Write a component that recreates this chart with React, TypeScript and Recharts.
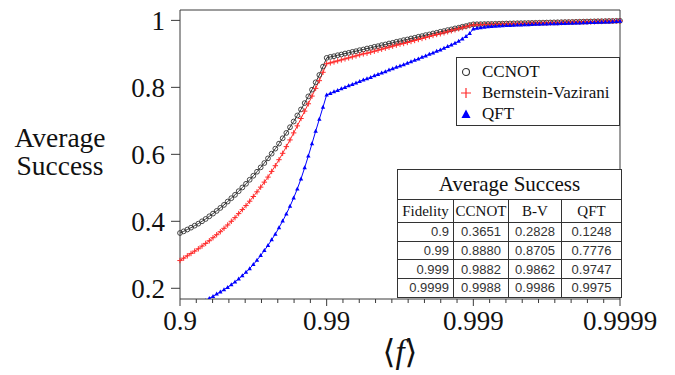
import { ComposedChart, Line, XAxis, YAxis, ReferenceLine } from "recharts";

// x = -log10(1 - f): 1 -> 0.9, 2 -> 0.99, 3 -> 0.999, 4 -> 0.9999
const infidelityExp = [
  1.0, 1.025, 1.05, 1.075, 1.1, 1.125, 1.15, 1.175, 1.2, 1.225, 1.25, 1.275, 1.3, 1.325, 1.35, 1.375, 1.4, 1.425, 1.45, 1.475,
  1.5, 1.525, 1.55, 1.575, 1.6, 1.625, 1.65, 1.675, 1.7, 1.725, 1.75, 1.775, 1.8, 1.825, 1.85, 1.875, 1.9, 1.925, 1.95, 1.975,
  2.0, 2.025, 2.05, 2.075, 2.1, 2.125, 2.15, 2.175, 2.2, 2.225, 2.25, 2.275, 2.3, 2.325, 2.35, 2.375, 2.4, 2.425, 2.45, 2.475,
  2.5, 2.525, 2.55, 2.575, 2.6, 2.625, 2.65, 2.675, 2.7, 2.725, 2.75, 2.775, 2.8, 2.825, 2.85, 2.875, 2.9, 2.925, 2.95, 2.975,
  3.0, 3.025, 3.05, 3.075, 3.1, 3.125, 3.15, 3.175, 3.2, 3.225, 3.25, 3.275, 3.3, 3.325, 3.35, 3.375, 3.4, 3.425, 3.45, 3.475,
  3.5, 3.525, 3.55, 3.575, 3.6, 3.625, 3.65, 3.675, 3.7, 3.725, 3.75, 3.775, 3.8, 3.825, 3.85, 3.875, 3.9, 3.925, 3.95, 3.975,
  4.0,
];

const ccnot = [
  0.3651, 0.37, 0.3755, 0.381, 0.387, 0.393, 0.4, 0.407, 0.415, 0.423, 0.431, 0.44, 0.449, 0.459, 0.469, 0.479, 0.49, 0.501, 0.512, 0.524,
  0.536, 0.548, 0.561, 0.574, 0.588, 0.602, 0.617, 0.632, 0.648, 0.664, 0.681, 0.698, 0.716, 0.734, 0.753, 0.773, 0.793, 0.815, 0.837, 0.862,
  0.888, 0.891, 0.893, 0.896, 0.898, 0.901, 0.903, 0.906, 0.908, 0.911, 0.913, 0.916, 0.918, 0.921, 0.923, 0.926, 0.928, 0.931, 0.933, 0.936,
  0.938, 0.941, 0.943, 0.946, 0.948, 0.951, 0.953, 0.956, 0.958, 0.961, 0.963, 0.966, 0.968, 0.971, 0.973, 0.976, 0.978, 0.981, 0.983, 0.986,
  0.9882, 0.9885, 0.9887, 0.989, 0.9893, 0.9895, 0.9898, 0.9901, 0.9903, 0.9906, 0.9909, 0.9911, 0.9914, 0.9917, 0.9919, 0.9922, 0.9925, 0.9927, 0.993, 0.9933,
  0.9935, 0.9938, 0.9941, 0.9943, 0.9946, 0.9949, 0.9951, 0.9954, 0.9957, 0.9959, 0.9962, 0.9965, 0.9967, 0.997, 0.9973, 0.9975, 0.9978, 0.9981, 0.9983, 0.9986,
  0.9988,
];

const bernsteinVazirani = [
  0.2828, 0.29, 0.297, 0.304, 0.311, 0.318, 0.326, 0.334, 0.342, 0.351, 0.36, 0.369, 0.379, 0.389, 0.4, 0.411, 0.423, 0.435, 0.447, 0.46,
  0.474, 0.488, 0.502, 0.517, 0.532, 0.549, 0.566, 0.584, 0.603, 0.623, 0.643, 0.664, 0.685, 0.707, 0.729, 0.751, 0.774, 0.797, 0.82, 0.845,
  0.8705, 0.873, 0.876, 0.879, 0.882, 0.885, 0.888, 0.891, 0.894, 0.897, 0.9, 0.902, 0.905, 0.908, 0.911, 0.914, 0.917, 0.92, 0.923, 0.926,
  0.929, 0.931, 0.934, 0.937, 0.94, 0.943, 0.946, 0.949, 0.952, 0.955, 0.958, 0.96, 0.963, 0.966, 0.969, 0.972, 0.975, 0.978, 0.981, 0.984,
  0.9862, 0.9865, 0.9868, 0.9871, 0.9874, 0.9878, 0.9881, 0.9884, 0.9887, 0.989, 0.9893, 0.9896, 0.9899, 0.9902, 0.9905, 0.9909, 0.9912, 0.9915, 0.9918, 0.9921,
  0.9924, 0.9927, 0.993, 0.9933, 0.9936, 0.994, 0.9943, 0.9946, 0.9949, 0.9952, 0.9955, 0.9958, 0.9961, 0.9964, 0.9967, 0.9971, 0.9974, 0.9977, 0.998, 0.9983,
  0.9986,
];

const qft = [
  0.1248, 0.129, 0.134, 0.139, 0.145, 0.151, 0.157, 0.163, 0.17, 0.176, 0.183, 0.189, 0.196, 0.203, 0.211, 0.219, 0.228, 0.238, 0.248, 0.259,
  0.271, 0.284, 0.298, 0.313, 0.328, 0.345, 0.362, 0.381, 0.401, 0.422, 0.445, 0.47, 0.497, 0.527, 0.56, 0.595, 0.632, 0.669, 0.705, 0.741,
  0.7776, 0.782, 0.787, 0.791, 0.796, 0.8, 0.805, 0.809, 0.813, 0.818, 0.822, 0.826, 0.83, 0.835, 0.839, 0.843, 0.847, 0.852, 0.856, 0.86,
  0.864, 0.868, 0.872, 0.877, 0.881, 0.885, 0.89, 0.894, 0.899, 0.903, 0.908, 0.912, 0.917, 0.922, 0.927, 0.932, 0.938, 0.945, 0.952, 0.961,
  0.9747, 0.9768, 0.9785, 0.9798, 0.981, 0.9819, 0.9828, 0.9835, 0.9842, 0.9848, 0.9853, 0.9858, 0.9863, 0.9868, 0.9872, 0.9876, 0.988, 0.9884, 0.9888, 0.9892,
  0.9895, 0.9899, 0.9902, 0.9906, 0.9909, 0.9913, 0.9916, 0.992, 0.9923, 0.9927, 0.993, 0.9934, 0.9937, 0.9941, 0.9944, 0.9948, 0.9952, 0.9957, 0.9962, 0.9968,
  0.9975,
];

const fidelityLabels = ["0.9", "0.99", "0.999", "0.9999"];
const tableCcnot = ["0.3651", "0.8880", "0.9882", "0.9988"];
const tableBv = ["0.2828", "0.8705", "0.9862", "0.9986"];
const tableQft = ["0.1248", "0.7776", "0.9747", "0.9975"];
const yTicks = [0.2, 0.4, 0.6, 0.8, 1];

const data = infidelityExp.map((t, i) => ({
  t,
  ccnot: ccnot[i],
  bv: bernsteinVazirani[i],
  qft: qft[i],
}));

// 9 minor divisions per decade, as on the original axis
const xTicks: number[] = [];
for (let k = 0; k <= 27; k++) xTicks.push(1 + k / 9);

const serif = "'Liberation Serif', 'DejaVu Serif', serif";
const sans = "'Liberation Sans', Arial, sans-serif";
const axisColor = "#3a3a3a";
const black = "#333333";
const red = "#ff2a2a";
const blue = "#0000ff";

function CircleDot(props: any) {
  const { cx, cy, index } = props;
  if (cx == null || cy == null) return <g key={index} />;
  return <circle key={index} cx={cx} cy={cy} r={2.4} fill="none" stroke={black} strokeWidth={0.9} />;
}

function PlusDot(props: any) {
  const { cx, cy, index } = props;
  if (cx == null || cy == null) return <g key={index} />;
  return (
    <path key={index} d={`M${cx - 2.7},${cy}h5.4M${cx},${cy - 2.7}v5.4`} stroke={red} strokeWidth={1} fill="none" />
  );
}

function TriDot(props: any) {
  const { cx, cy, index } = props;
  if (cx == null || cy == null) return <g key={index} />;
  return <path key={index} d={`M${cx},${cy - 2.4}L${cx + 2.2},${cy + 1.6}L${cx - 2.2},${cy + 1.6}Z`} fill={blue} />;
}

function XTick(props: any) {
  const { x, y, payload } = props;
  const v = payload.value as number;
  const major = Math.abs(v - Math.round(v)) < 1e-6;
  return (
    <g>
      <line x1={x} x2={x} y1={y} y2={y + (major ? 7 : 4)} stroke={axisColor} strokeWidth={1} />
      {major && (
        <text x={x} y={y + 31} textAnchor="middle" fontFamily={serif} fontSize={27} fill="#111">
          {fidelityLabels[Math.round(v) - 1]}
        </text>
      )}
    </g>
  );
}

function YLabel() {
  return (
    <text textAnchor="middle" fontFamily={serif} fontSize={27.5} fill="#111">
      <tspan x={60} y={147}>Average</tspan>
      <tspan x={60} y={175}>Success</tspan>
    </text>
  );
}

function XLabel() {
  return (
    <text x={400} y={363} textAnchor="middle" fontFamily={serif} fontSize={33} fill="#111">
      ⟨<tspan fontStyle="italic">f</tspan>⟩
    </text>
  );
}

const cellBorder = "1px solid #333";

export default function App() {
  return (
    <div style={{ position: "absolute", left: 0, top: 0, width: 675, height: 375, background: "#fff" }}>
      <ComposedChart width={675} height={375} data={data} margin={{ top: 10, right: 55, bottom: 0, left: 0 }}>
        <XAxis
          dataKey="t"
          type="number"
          domain={[1, 4]}
          ticks={xTicks}
          interval={0}
          height={76}
          tickLine={false}
          tickSize={0}
          tickMargin={0}
          tick={<XTick />}
          axisLine={{ stroke: axisColor }}
          label={{ content: <XLabel /> }}
        />
        <YAxis
          type="number"
          domain={[0.168, 1.031]}
          allowDataOverflow
          ticks={yTicks}
          width={180}
          tickSize={9}
          tickMargin={6}
          tickLine={{ stroke: axisColor }}
          axisLine={{ stroke: axisColor }}
          tick={{ fontFamily: serif, fontSize: 27, fill: "#111" }}
          label={{ content: <YLabel /> }}
        />
        <ReferenceLine y={1.031} stroke={axisColor} />
        <ReferenceLine x={4} stroke={axisColor} />
        <Line dataKey="ccnot" stroke={black} strokeWidth={1} dot={<CircleDot />} activeDot={false} isAnimationActive={false} />
        <Line dataKey="bv" stroke={red} strokeWidth={1} dot={<PlusDot />} activeDot={false} isAnimationActive={false} />
        <Line dataKey="qft" stroke={blue} strokeWidth={1} dot={<TriDot />} activeDot={false} isAnimationActive={false} />
      </ComposedChart>

      <div
        style={{
          position: "absolute",
          left: 456,
          top: 57,
          width: 164,
          height: 69,
          border: "1px solid #333",
          background: "#fff",
          fontFamily: serif,
          fontSize: 17,
          color: "#111",
          boxSizing: "border-box",
          paddingTop: 3,
        }}
      >
        {[
          { name: "CCNOT", icon: <circle cx={6} cy={6} r={3.5} fill="none" stroke={black} strokeWidth={1.1} /> },
          { name: "Bernstein-Vazirani", icon: <path d="M1,6h10M6,1v10" stroke={red} strokeWidth={1.2} /> },
          { name: "QFT", icon: <path d="M6,1.5L10.5,10L1.5,10Z" fill={blue} /> },
        ].map((e) => (
          <div key={e.name} style={{ display: "flex", alignItems: "center", height: 21, whiteSpace: "nowrap" }}>
            <svg width={12} height={12} style={{ marginLeft: 3, marginRight: 10 }}>
              {e.icon}
            </svg>
            {e.name}
          </div>
        ))}
      </div>

      <table
        style={{
          position: "absolute",
          left: 397,
          top: 169,
          width: 224,
          borderCollapse: "collapse",
          background: "#fff",
          tableLayout: "fixed",
        }}
      >
        <colgroup>
          <col style={{ width: 56 }} />
          <col style={{ width: 55 }} />
          <col style={{ width: 53 }} />
          <col style={{ width: 60 }} />
        </colgroup>
        <tbody>
          <tr style={{ height: 30 }}>
            <td
              colSpan={4}
              style={{ border: cellBorder, fontFamily: serif, fontSize: 21, textAlign: "center", padding: 0, color: "#111" }}
            >
              Average Success
            </td>
          </tr>
          <tr style={{ height: 23 }}>
            {["Fidelity", "CCNOT", "B-V", "QFT"].map((h) => (
              <td
                key={h}
                style={{ border: cellBorder, fontFamily: serif, fontSize: 15, textAlign: "center", padding: 0, color: "#111" }}
              >
                {h}
              </td>
            ))}
          </tr>
          {fidelityLabels.map((f, i) => (
            <tr key={f} style={{ height: 18.7 }}>
              <td
                style={{ border: cellBorder, fontFamily: sans, fontSize: 13, textAlign: "right", padding: "0 4px 0 0", color: "#333" }}
              >
                {f}
              </td>
              {[tableCcnot[i], tableBv[i], tableQft[i]].map((v, j) => (
                <td
                  key={j}
                  style={{ border: cellBorder, fontFamily: sans, fontSize: 13, textAlign: "center", padding: 0, color: "#333" }}
                >
                  {v}
                </td>
              ))}
            </tr>
          ))}
        </tbody>
      </table>
    </div>
  );
}
